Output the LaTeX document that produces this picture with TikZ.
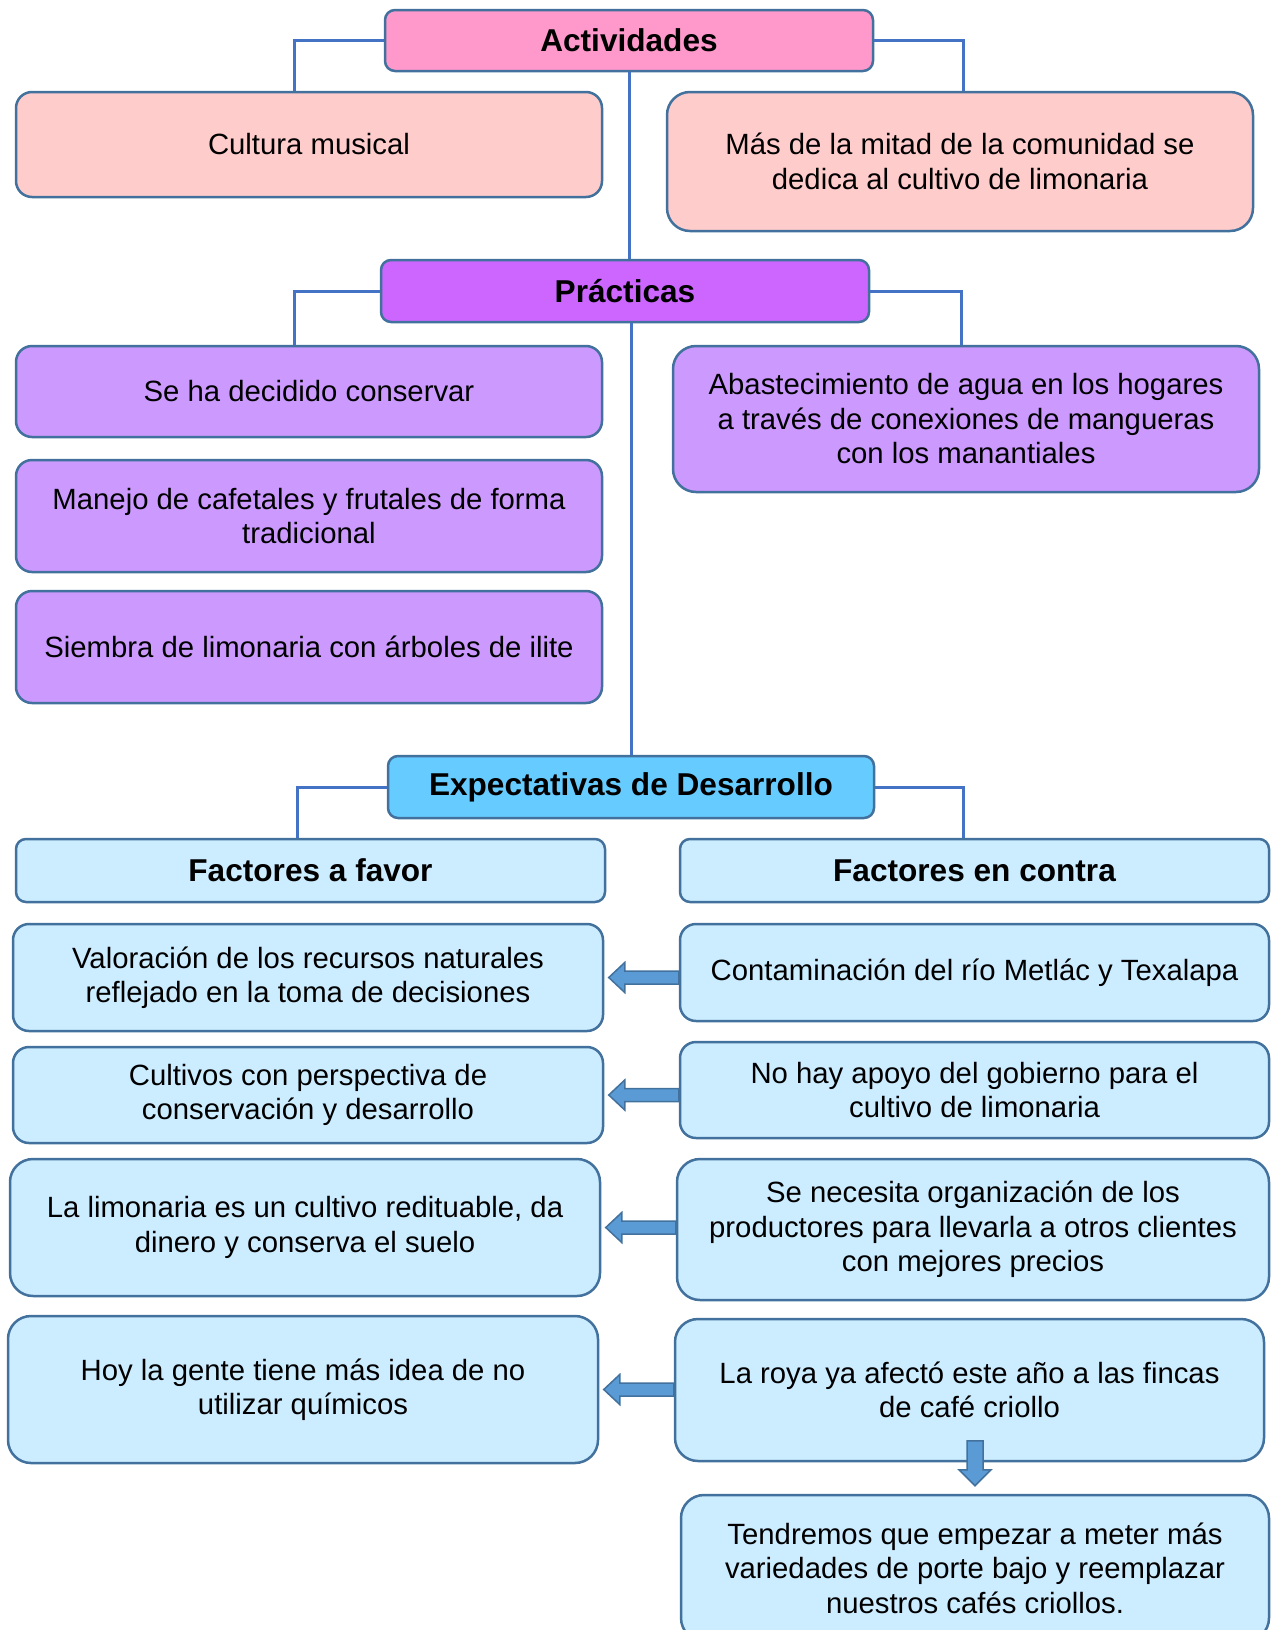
\documentclass[tikz,border=0pt]{standalone}
\usepackage{fontspec}
\setmainfont{Liberation Sans}
\definecolor{boxedge}{HTML}{41719C}
\definecolor{linkblue}{HTML}{4472C4}
\definecolor{arrowblue}{HTML}{5B9BD5}
\definecolor{actpink}{HTML}{FF99CC}
\definecolor{actlight}{HTML}{FFCCCC}
\definecolor{pracviolet}{HTML}{CC66FF}
\definecolor{praclight}{HTML}{CC99FF}
\definecolor{expblue}{HTML}{66CCFF}
\definecolor{explight}{HTML}{CCECFF}

\begin{document}
\begin{tikzpicture}[x=1pt, y=-1pt,
    box/.style={draw=boxedge, line width=2.5pt, rounded corners=16pt, align=center,
      inner sep=0pt, font=\fontsize{29.3}{34.5}\selectfont},
    tallbox/.style={box, rounded corners=23pt},
    headbox/.style={box, rounded corners=10pt, font=\bfseries\fontsize{31.6}{36}\selectfont},
    boxsize/.style 2 args={minimum width=#1pt, minimum height=#2pt},
    link/.style={draw=linkblue, line width=3pt},
    blockarrow/.style={fill=arrowblue, draw=boxedge, line width=1.5pt, line join=miter}]
    \useasboundingbox (0,0) rectangle (1272,1630);

    % Actividades
    \node[headbox, fill=actpink, boxsize={488}{61}] (act) at (629,40.5) {Actividades};
    \node[box, fill=actlight, boxsize={586}{105}] (cult) at (309,144.5) {Cultura musical};
    \node[tallbox, fill=actlight, boxsize={586}{139}] (mas) at (960,161.5)
      {Más de la mitad de la comunidad se\\dedica al cultivo de limonaria};

    % Practicas
    \node[headbox, fill=pracviolet, boxsize={488}{62}] (prac) at (625,291) {Prácticas};
    \node[box, fill=praclight, boxsize={586}{91}] (sedec) at (309,391.5) {Se ha decidido conservar};
    \node[tallbox, fill=praclight, boxsize={586}{146}] (abast) at (966,419)
      {Abastecimiento de agua en los hogares\\a través de conexiones de mangueras\\con los manantiales};
    \node[box, fill=praclight, boxsize={586}{112}] (manejo) at (309,516)
      {Manejo de cafetales y frutales de forma\\tradicional};
    \node[box, fill=praclight, boxsize={586}{112}] (siembra) at (309,647)
      {Siembra de limonaria con árboles de ilite};

    % Expectativas
    \node[headbox, fill=expblue, boxsize={486}{62}] (exp) at (631,787) {Expectativas de Desarrollo};
    \node[headbox, fill=explight, boxsize={589}{63}] (favor) at (310.5,870.5) {Factores a favor};
    \node[headbox, fill=explight, boxsize={589}{63}] (contra) at (974.5,870.5) {Factores en contra};

    % Factores a favor
    \node[box, fill=explight, boxsize={590}{107}] (valor) at (308,977.5)
      {Valoración de los recursos naturales\\reflejado en la toma de decisiones};
    \node[box, fill=explight, boxsize={590}{96}] (cultiv) at (308,1095)
      {Cultivos con perspectiva de\\conservación y desarrollo};
    \node[tallbox, fill=explight, boxsize={590}{137}] (limon) at (305,1227.5)
      {La limonaria es un cultivo redituable, da\\dinero y conserva el suelo};
    \node[tallbox, fill=explight, boxsize={590}{147}] (hoy) at (303,1389.5)
      {Hoy la gente tiene más idea de no\\utilizar químicos};

    % Factores en contra
    \node[box, fill=explight, boxsize={589}{97}] (contam) at (974.5,972.5)
      {Contaminación del río Metlác y Texalapa};
    \node[box, fill=explight, boxsize={589}{96}] (apoyo) at (974.5,1090)
      {No hay apoyo del gobierno para el\\cultivo de limonaria};
    \node[tallbox, fill=explight, boxsize={592}{141}] (organ) at (973,1229.5)
      {Se necesita organización de los\\productores para llevarla a otros clientes\\con mejores precios};
    \node[tallbox, fill=explight, boxsize={589}{142}] (roya) at (969.5,1390)
      {La roya ya afectó este año a las fincas\\de café criollo};
    \node[tallbox, fill=explight, boxsize={588}{146}] (tend) at (975,1568)
      {Tendremos que empezar a meter más\\variedades de porte bajo y reemplazar\\nuestros cafés criollos.};

    % Connectors
    \draw[link] (act.south) -- (act.south |- prac.north);
    \draw[link] (prac.south -| exp.north) -- (exp.north);
    \draw[link] (act.west) -| ([xshift=-15pt]cult.north);
    \draw[link] (act.east) -| ([xshift=3pt]mas.north);
    \draw[link] (prac.west) -| ([xshift=-15pt]sedec.north);
    \draw[link] (prac.east) -| ([xshift=-5pt]abast.north);
    \draw[link] (exp.west) -| ([xshift=-13pt]favor.north);
    \draw[link] (exp.east) -| ([xshift=-11pt]contra.north);

    % Block arrows
    \foreach \r/\l in {contam/valor, apoyo/cultiv, organ/limon, roya/hoy}
      \draw[blockarrow, shift={(\r.west |- \l.east)}]
        (0,-6.5) -- (-54,-6.5) -- (-54,-15) -- (-70,0) -- (-54,15) -- (-54,6.5) -- (0,6.5) -- cycle;
    \draw[blockarrow, shift={(tend.north)}]
      (-8,-53) -- (8,-53) -- (8,-24) -- (16,-24) -- (0,-8) -- (-16,-24) -- (-8,-24) -- cycle;
\end{tikzpicture}
\end{document}
